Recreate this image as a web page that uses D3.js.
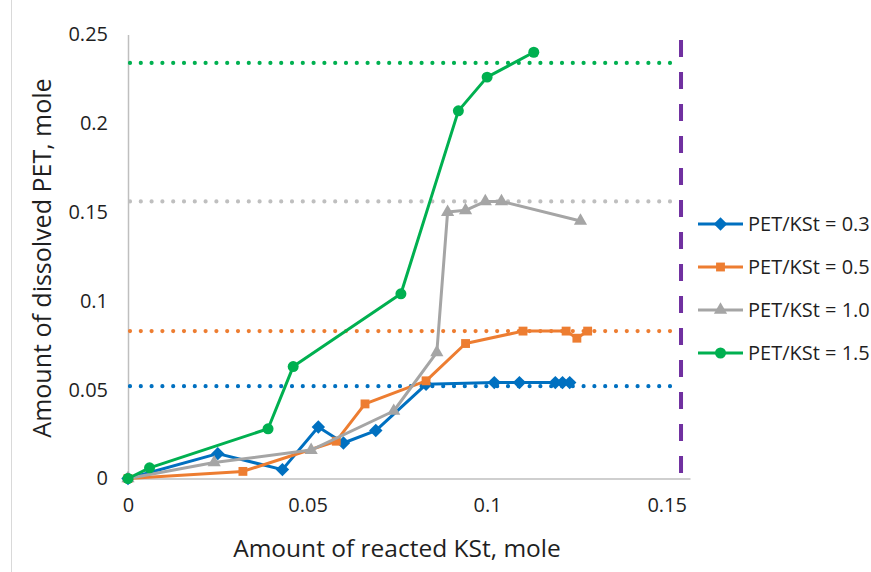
<!DOCTYPE html>
<html>
<head>
<meta charset="utf-8">
<script src="https://cdn.jsdelivr.net/npm/d3@7"></script>
<style>
  html, body { margin: 0; padding: 0; background: #fff; }
  svg { display: block; font-family: "Open Sans", "Noto Sans", sans-serif; }
</style>
</head>
<body>
<svg id="chart" width="871" height="572"></svg>
<script>
// Amount of reacted KSt (x) vs amount of dissolved PET (y), mole
const x03 = [0, 0.025, 0.043, 0.053, 0.060, 0.069, 0.083, 0.102, 0.109, 0.119, 0.121, 0.123];
const y03 = [0, 0.014, 0.005, 0.029, 0.020, 0.027, 0.053, 0.054, 0.054, 0.054, 0.054, 0.054];

const x05 = [0, 0.032, 0.058, 0.066, 0.083, 0.094, 0.110, 0.122, 0.125, 0.128];
const y05 = [0, 0.004, 0.021, 0.042, 0.055, 0.076, 0.083, 0.083, 0.079, 0.083];

const x10 = [0, 0.024, 0.051, 0.074, 0.086, 0.089, 0.094, 0.0995, 0.104, 0.126];
const y10 = [0, 0.009, 0.016, 0.038, 0.071, 0.150, 0.151, 0.156, 0.156, 0.145];

const x15 = [0, 0.006, 0.039, 0.046, 0.076, 0.092, 0.100, 0.113];
const y15 = [0, 0.006, 0.028, 0.063, 0.104, 0.207, 0.226, 0.240];

// Theoretical maximum of dissolved PET for each ratio
const limitLevels = [0.052, 0.083, 0.156, 0.234];
// Total KSt available
const kstLimit = 0.154;

const seriesNames = ["PET/KSt = 0.3", "PET/KSt = 0.5", "PET/KSt = 1.0", "PET/KSt = 1.5"];
const seriesColors = ["#0070C0", "#ED7D31", "#A5A5A5", "#00B050"];
const limitColors = ["#0070C0", "#ED7D31", "#BFBFBF", "#00B050"];
const markerShapes = [d3.symbolDiamond2, d3.symbolSquare2, d3.symbolTriangle2, d3.symbolCircle];
const markerSizes = [115, 100, 125, 95];

const xTicks = [0, 0.05, 0.1, 0.15];
const yTicks = [0, 0.05, 0.1, 0.15, 0.2, 0.25];

const svg = d3.select("#chart");

// outer chart frame
svg.append("rect")
  .attr("x", 11.5).attr("y", -5).attr("width", 880).attr("height", 600)
  .attr("fill", "none").attr("stroke", "#D9D9D9").attr("stroke-width", 1);

const x = d3.scaleLinear().domain([0, 0.1565]).range([128, 690]);
const y = d3.scaleLinear().domain([0, 0.25]).range([478.5, 34.5]);

// axes
const xAxis = d3.axisBottom(x).tickValues(xTicks).tickFormat(d3.format("~g")).tickSize(0).tickPadding(19);
const yAxis = d3.axisLeft(y).tickValues(yTicks).tickFormat(d3.format("~g")).tickSize(0).tickPadding(20);

const gx = svg.append("g").attr("transform", `translate(0,${y(0)})`).call(xAxis);
const gy = svg.append("g").attr("transform", `translate(${x(0)},0)`).call(yAxis);
[gx, gy].forEach(g => {
  g.select(".domain").attr("stroke", "#BFBFBF").attr("stroke-width", 1.5);
  g.selectAll("text").attr("fill", "#1f1f1f").style("font-size", "20px")
    .style("font-family", "'Open Sans', sans-serif");
});
gx.selectAll("text").attr("dy", "0.71em");

// horizontal dotted limit lines
const pairs = [[x03, y03], [x05, y05], [x10, y10], [x15, y15]];
limitLevels.forEach((lv, i) => {
  svg.append("line")
    .attr("x1", x(0) + 2).attr("x2", 675)
    .attr("y1", y(lv)).attr("y2", y(lv))
    .attr("stroke", limitColors[i]).attr("stroke-width", 4.2)
    .attr("stroke-linecap", "round").attr("stroke-dasharray", "0 10.8");
});

// vertical dashed KSt limit
svg.append("line")
  .attr("x1", x(kstLimit)).attr("x2", x(kstLimit))
  .attr("y1", 40).attr("y2", y(0))
  .attr("stroke", "#7030A0").attr("stroke-width", 4)
  .attr("stroke-dasharray", "17 15");

// data series
const line = d3.line().x(d => x(d[0])).y(d => y(d[1]));
pairs.forEach((p, i) => {
  const pts = p[0].map((v, k) => [v, p[1][k]]);
  const g = svg.append("g");
  g.append("path").datum(pts).attr("d", line)
    .attr("fill", "none").attr("stroke", seriesColors[i]).attr("stroke-width", 3)
    .attr("stroke-linejoin", "round");
  g.selectAll("path.m").data(pts).enter().append("path")
    .attr("class", "m")
    .attr("transform", d => `translate(${x(d[0])},${y(d[1])})`)
    .attr("d", d3.symbol().type(markerShapes[i]).size(markerSizes[i]))
    .attr("fill", seriesColors[i]);
});

// legend
const legendRows = [224, 267, 310, 353];
seriesNames.forEach((name, i) => {
  const g = svg.append("g").attr("transform", `translate(0,${legendRows[i]})`);
  g.append("line").attr("x1", 698).attr("x2", 743).attr("y1", 0).attr("y2", 0)
    .attr("stroke", seriesColors[i]).attr("stroke-width", 3);
  g.append("path").attr("transform", "translate(720.5,0)")
    .attr("d", d3.symbol().type(markerShapes[i]).size(markerSizes[i]))
    .attr("fill", seriesColors[i]);
  g.append("text").attr("x", 748).attr("y", 0).attr("dy", "0.35em")
    .attr("fill", "#1f1f1f").style("font-size", "20px").text(name);
});

// axis titles
svg.append("text").attr("x", 397).attr("y", 548).attr("dy", "0.35em")
  .attr("text-anchor", "middle").attr("fill", "#1f1f1f").style("font-size", "24.5px")
  .text("Amount of reacted KSt, mole");
svg.append("text").attr("transform", "translate(42,258) rotate(-90)").attr("dy", "0.35em")
  .attr("text-anchor", "middle").attr("fill", "#1f1f1f").style("font-size", "25px")
  .text("Amount of dissolved PET, mole");
</script>
</body>
</html>
